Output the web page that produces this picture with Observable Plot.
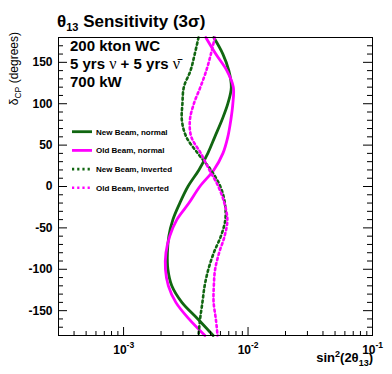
<!DOCTYPE html>
<html><head><meta charset="utf-8">
<script src="https://cdn.jsdelivr.net/npm/d3@7"></script>
<script src="https://cdn.jsdelivr.net/npm/@observablehq/plot@0.6"></script>
<style>
body{margin:0;background:#fff;}
#chart{width:392px;height:374px;}
svg{display:block}
</style></head><body><div id="chart"></div>
<script>
// delta_CP (degrees) samples
const deltaCP = [180,160,140,120,100,80,60,40,20,0,-20,-40,-60,-80,-100,-120,-140,-160,-180];
// sin^2(2 theta13) 3-sigma sensitivity
const newBeamNormal   = [0.00531,0.00628,0.00701,0.00734,0.00688,0.00616,0.00541,0.00475,0.00403,0.00329,0.00283,0.00249,0.00231,0.00225,0.00227,0.00244,0.00294,0.00395,0.00525];
const oldBeamNormal   = [0.00458,0.00551,0.00676,0.00762,0.00755,0.00727,0.00688,0.00628,0.00531,0.00410,0.00335,0.00268,0.00235,0.00219,0.00217,0.00229,0.00263,0.00335,0.00450];
const newBeamInverted = [0.00400,0.00373,0.00345,0.00305,0.00297,0.00294,0.00319,0.00395,0.00503,0.00599,0.00651,0.00657,0.00605,0.00531,0.00480,0.00448,0.00430,0.00412,0.00400];
const oldBeamInverted = [0.00541,0.00503,0.00462,0.00414,0.00367,0.00341,0.00350,0.00418,0.00489,0.00577,0.00645,0.00682,0.00648,0.00586,0.00544,0.00531,0.00529,0.00551,0.00569];
const seriesNames = ["New Beam, normal","Old Beam, normal","New Beam, inverted","Old Beam, inverted"];
const seriesValues = [newBeamNormal, oldBeamNormal, newBeamInverted, oldBeamInverted];
const seriesColors = ["#116611","#ff00ff","#116611","#ff00ff"];
const seriesDotted = [false,false,true,true];

const yMajorTicks = [-150,-100,-50,0,50,100,150];
const yMinorTicks = [-170,-160,-140,-130,-120,-110,-90,-80,-70,-60,-40,-30,-20,-10,10,20,30,40,60,70,80,90,110,120,130,140,160,170];
const xMajorTicks = [1e-3,1e-2,1e-1];
const xExponents = ["-3","-2","-1"];
const xMinorTicks = [4e-4,5e-4,6e-4,7e-4,8e-4,9e-4,2e-3,3e-3,4e-3,5e-3,6e-3,7e-3,8e-3,9e-3,2e-2,3e-2,4e-2,5e-2,6e-2,7e-2,8e-2,9e-2];

const W = 392, H = 374, mL = 58, mR = 20, mT = 37, mB = 39;
const pw = W - mL - mR, ph = H - mT - mB;
const DOT = "2.2,3";

const rows = [];
seriesNames.forEach((s, i) => deltaCP.forEach((d, j) => rows.push({series: s, delta: d, value: seriesValues[i][j]})));

const lineMarks = seriesNames.map((s, i) => Plot.line(rows.filter(r => r.series === s), {
  x: "value", y: "delta", stroke: seriesColors[i], strokeWidth: seriesDotted[i] ? 2.6 : 2.8,
  strokeDasharray: seriesDotted[i] ? DOT : null, curve: "catmull-rom"
}));

const svg = Plot.plot({
  width: W, height: H, marginLeft: mL, marginRight: mR, marginTop: mT, marginBottom: mB,
  style: {fontFamily: "'Liberation Sans', Arial, sans-serif", background: "white", color: "black"},
  x: {type: "log", domain: [3e-4, 0.1], axis: null},
  y: {domain: [-180, 180], axis: null},
  marks: [
    ...lineMarks,
    Plot.ruleY(yMinorTicks, {y: d => d, insetRight: pw - 5, stroke: "black"}),
    Plot.ruleY(yMajorTicks, {y: d => d, insetRight: pw - 9, stroke: "black"}),
    Plot.ruleY(yMinorTicks, {y: d => d, insetLeft: pw - 5, stroke: "black"}),
    Plot.ruleY(yMajorTicks, {y: d => d, insetLeft: pw - 9, stroke: "black"}),
    Plot.ruleX(xMinorTicks, {x: d => d, insetTop: ph - 4, stroke: "black"}),
    Plot.ruleX(xMajorTicks, {x: d => d, insetTop: ph - 8, stroke: "black"}),
    Plot.frame({stroke: "black", strokeWidth: 1}),
    Plot.text(yMajorTicks, {y: d => d, text: d => String(d), frameAnchor: "left", textAnchor: "end", dx: -6,
      fontSize: 12, fontWeight: "bold", fill: "black"}),
    Plot.text(xMajorTicks, {x: d => d, text: () => "10", frameAnchor: "bottom", textAnchor: "end", lineAnchor: "bottom",
      dx: 3, dy: 18, fontSize: 12, fontWeight: "bold", fill: "black"}),
    Plot.text(xMajorTicks, {x: d => d, text: (d, i) => xExponents[i], frameAnchor: "bottom", textAnchor: "start", lineAnchor: "bottom",
      dx: 3, dy: 12, fontSize: 8.5, fontWeight: "bold", fill: "black"})
  ]
});
document.getElementById("chart").appendChild(svg);

const s = d3.select(svg);
const F = "'Liberation Sans', Arial, sans-serif";
const txt = (x, y) => s.append("text").attr("x", x).attr("y", y).attr("text-anchor", "start")
  .attr("font-family", F).attr("fill", "black");
// Title
const t = txt(57, 27).attr("font-size", 17).attr("font-weight", "bold");
t.append("tspan").text("θ");
t.append("tspan").attr("font-size", 11).attr("dy", 4).text("13");
t.append("tspan").attr("dy", -4).text(" Sensitivity (3σ)");

// Annotation
const ann = [["200 kton WC"], ["5 yrs ", "ν", " + 5 yrs ", "ν\u0304"], ["700 kW"]];
ann.forEach((parts, i) => {
  const tx = txt(70, 51 + i * 18).attr("font-size", 15).attr("font-weight", "bold");
  parts.forEach(p => {
    const sp = tx.append("tspan").text(p);
    if (p.startsWith("ν")) sp.attr("font-family", "'Liberation Serif', serif").attr("font-weight", "normal").attr("font-size", 16);
  });
});

// Legend
seriesNames.forEach((name, i) => {
  const y = 131.7 + i * 18.7;
  s.append("line").attr("x1", 72).attr("x2", 92).attr("y1", y).attr("y2", y)
    .attr("stroke", seriesColors[i]).attr("stroke-width", seriesDotted[i] ? 2.6 : 2.8)
    .attr("stroke-dasharray", seriesDotted[i] ? DOT : null);
  txt(96, y + 3).attr("font-size", 8).attr("font-weight", "bold").text(name);
});

// Y axis title
const yt = s.append("text").attr("transform", "translate(18,32) rotate(-90)").attr("text-anchor", "end")
  .attr("font-family", F).attr("font-size", 12).attr("fill", "black");
yt.append("tspan").text("δ");
yt.append("tspan").attr("font-size", 8.5).attr("dy", 3).text("CP");
yt.append("tspan").attr("dy", -3).text(" (degrees)");

// X axis title
const xt = s.append("text").attr("x", 373).attr("y", 362).attr("text-anchor", "end")
  .attr("font-family", F).attr("font-size", 13).attr("font-weight", "bold").attr("fill", "black");
xt.append("tspan").text("sin");
xt.append("tspan").attr("font-size", 9).attr("dy", -5).text("2");
xt.append("tspan").attr("dy", 5).text("(2θ");
xt.append("tspan").attr("font-size", 9).attr("dy", 4).text("13");
xt.append("tspan").attr("dy", -4).text(")");
</script>
</body></html>
